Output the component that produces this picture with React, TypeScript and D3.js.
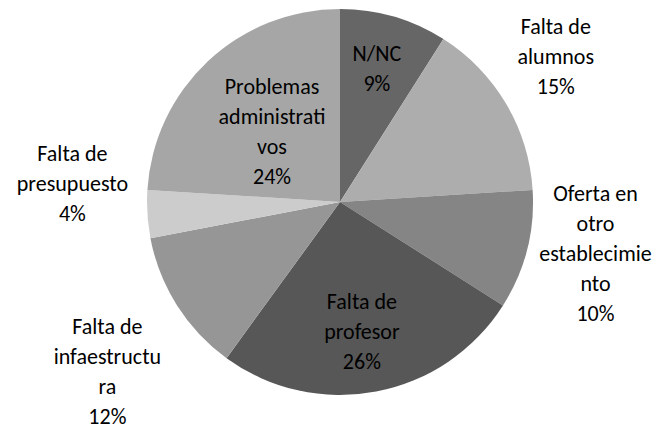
import { useEffect, useRef } from "react";
import * as d3 from "d3";

// categories, clockwise from 12 o'clock
const categories = [
  "N/NC",
  "Falta de alumnos",
  "Oferta en otro establecimiento",
  "Falta de profesor",
  "Falta de infaestructura",
  "Falta de presupuesto",
  "Problemas administrativos",
];
const values = [9, 15, 10, 26, 12, 4, 24];

// wrapped label text as it shows in the chart
const labelLines = [
  ["N/NC"],
  ["Falta de", "alumnos"],
  ["Oferta en", "otro", "establecimie", "nto"],
  ["Falta de", "profesor"],
  ["Falta de", "infaestructu", "ra"],
  ["Falta de", "presupuesto"],
  ["Problemas", "administrati", "vos"],
];

const colors = ["#666666", "#adadad", "#858585", "#575757", "#969696", "#cccccc", "#a6a6a6"];

// label placement: distance from center (relative to radius) and angle nudge (deg)
const labelRadius = [0.72, 1.35, 1.35, 0.68, 1.49, 1.39, 0.51];
const labelNudge = [-0.8, -3.5, -3.1, 1.2, -3.6, 7.6, -0.5];

export default function App() {
  const ref = useRef<SVGSVGElement>(null);

  useEffect(() => {
    if (!ref.current) return;
    document.body.style.margin = "0";

    const width = 663;
    const height = 428;
    const cx = 340;
    const cy = 202;
    const r = 193;
    const lineH = 30;

    const svg = d3.select(ref.current);
    svg.selectAll("*").remove();
    svg.attr("width", width).attr("height", height).attr("viewBox", `0 0 ${width} ${height}`);

    const data = categories.map((c, i) => ({ name: c, value: values[i], i }));
    const pie = d3.pie<any>().sort(null).value(d => d.value);
    const arcs = pie(data);
    const arc = d3.arc<any>().innerRadius(0).outerRadius(r);

    const g = svg.append("g").attr("transform", `translate(${cx},${cy})`);

    g.selectAll("path")
      .data(arcs)
      .enter()
      .append("path")
      .attr("d", arc)
      .attr("fill", d => colors[d.index]);

    // labels
    arcs.forEach(d => {
      const i = d.index;
      const mid = (d.startAngle + d.endAngle) / 2 + (labelNudge[i] * Math.PI) / 180;
      const lr = labelRadius[i] * r;
      const x = Math.sin(mid) * lr;
      const y = -Math.cos(mid) * lr;
      const lines = [...labelLines[i], `${d.data.value}%`];
      const top = y - ((lines.length - 1) * lineH) / 2;
      const t = g.append("text")
        .attr("text-anchor", "middle")
        .attr("font-family", "Carlito, Lato, sans-serif")
        .attr("font-size", "22px")
        .attr("fill", "#000");
      lines.forEach((ln, k) => {
        t.append("tspan")
          .attr("x", x)
          .attr("y", top + k * lineH)
          .attr("dy", "0.35em")
          .text(ln);
      });
    });
  }, []);

  return <svg ref={ref} style={{ display: "block" }}></svg>;
}
